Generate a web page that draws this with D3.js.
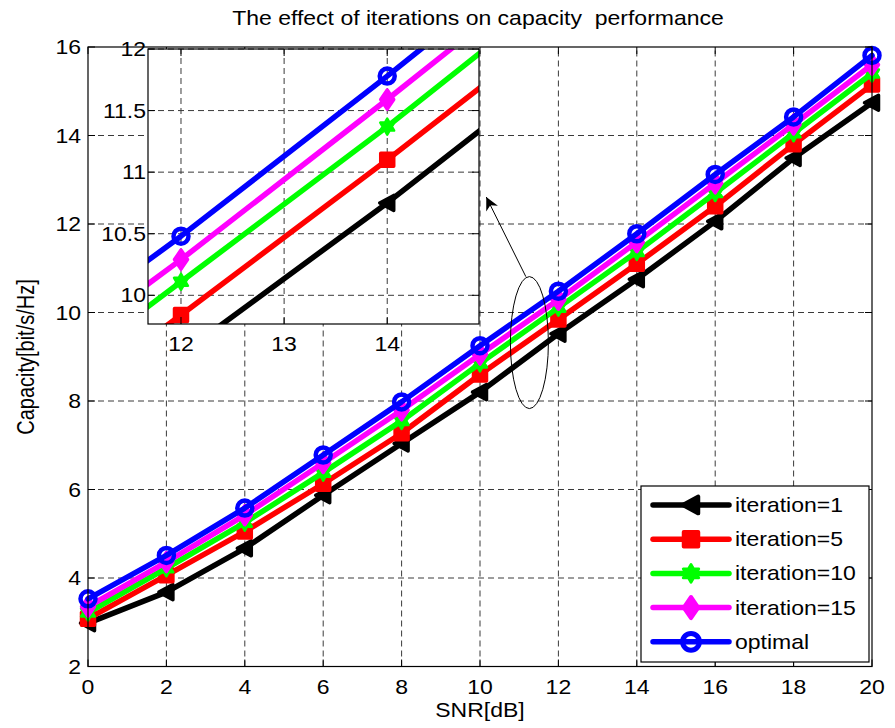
<!DOCTYPE html>
<html>
<head>
<meta charset="utf-8">
<script src="https://cdn.jsdelivr.net/npm/d3@7"></script>
<style>
body { margin: 0; background: #fff; }
text { font-family: "Liberation Sans", Arial, sans-serif; fill: #000; white-space: pre; }
</style>
</head>
<body>
<svg id="chart" width="895" height="728"></svg>
<script>
// data
var snr = [0, 2, 4, 6, 8, 10, 12, 14, 16, 18, 20];
var iter1 = [2.98, 3.68, 4.67, 5.87, 7.04, 8.20, 9.52, 10.75, 12.06, 13.49, 14.74];
var iter5 = [3.08, 4.06, 5.05, 6.13, 7.27, 8.60, 9.84, 11.10, 12.40, 13.80, 15.15];
var iter10 = [3.22, 4.22, 5.25, 6.38, 7.55, 8.85, 10.11, 11.37, 12.70, 14.05, 15.40];
var iter15 = [3.35, 4.36, 5.42, 6.60, 7.79, 9.05, 10.29, 11.59, 12.92, 14.25, 15.60];
var optimal = [3.53, 4.51, 5.58, 6.78, 7.98, 9.25, 10.48, 11.78, 13.12, 14.42, 15.81];
var seriesNames = ["iteration=1", "iteration=5", "iteration=10", "iteration=15", "optimal"];
var xTicks = [0, 2, 4, 6, 8, 10, 12, 14, 16, 18, 20];
var yTicks = [2, 4, 6, 8, 10, 12, 14, 16];
var insetXTicks = [12, 13, 14];
var insetYTicks = [10, 10.5, 11, 11.5, 12];

var allSeries = [iter1, iter5, iter10, iter15, optimal];
var colors = ["#000000", "#ff0000", "#00ff00", "#ff00ff", "#0000ff"];
var shapes = ["tri", "square", "hex", "diamond", "circle"];

var svg = d3.select("#chart");
var fs = 20, sx = 1.15;

var x = d3.scaleLinear().domain([0, 20]).range([88, 872]);
var y = d3.scaleLinear().domain([2, 16]).range([666.5, 47]);

// text stretched a little sideways like the picture
function label(g, px, py, str, anchor, rot, size) {
    return g.append("text")
        .attr("transform", "translate(" + px + "," + py + ") scale(" + sx + ",1)" + (rot ? " rotate(-90)" : ""))
        .attr("text-anchor", anchor)
        .attr("font-size", (size || fs) + "px")
        .text(str);
}

function hexPath(r) {
    var p = "";
    [[-90, 30, 150], [90, 210, 330]].forEach(function (a) {
        p += "M" + a.map(function (d) {
            var t = d * Math.PI / 180;
            return (r * Math.cos(t)).toFixed(2) + "," + (r * Math.sin(t)).toFixed(2);
        }).join("L") + "Z";
    });
    return p;
}

function drawMarker(g, shape, color, cx, cy, k) {
    k = k || 1;
    var tr = "translate(" + cx + "," + cy + ") scale(" + k + ")";
    if (shape == "circle") {
        g.append("circle").attr("r", 7.5).attr("transform", tr)
            .attr("fill", "none").attr("stroke", color).attr("stroke-width", 4.5);
        return;
    }
    var d;
    if (shape == "tri") d = "M-7.5,0L6.5,-7.5L6.5,7.5Z";
    if (shape == "square") d = "M-6.5,-6.5H6.5V6.5H-6.5Z";
    if (shape == "diamond") d = "M0,-9.5L6.5,0L0,9.5L-6.5,0Z";
    if (shape == "hex") d = hexPath(8);
    g.append("path").attr("d", d).attr("transform", tr)
        .attr("fill", color).attr("stroke", color)
        .attr("stroke-width", shape == "hex" ? 2.5 : 3.5).attr("stroke-linejoin", "round");
}

function drawSeries(g, xs, ys) {
    allSeries.forEach(function (vals, k) {
        var line = d3.line().x(function (d, i) { return xs(snr[i]); }).y(function (d) { return ys(d); });
        g.append("path").datum(vals).attr("d", line)
            .attr("fill", "none").attr("stroke", colors[k]).attr("stroke-width", 5.5)
            .attr("stroke-linejoin", "round").attr("stroke-linecap", "round");
        vals.forEach(function (v, i) {
            drawMarker(g, shapes[k], colors[k], xs(snr[i]), ys(v));
        });
    });
}

function drawGrid(g, xs, ys, xt, yt) {
    var xr = xs.range(), yr = ys.range();
    g.selectAll(null).data(xt).enter().append("line")
        .attr("x1", function (d) { return xs(d); }).attr("x2", function (d) { return xs(d); })
        .attr("y1", yr[0]).attr("y2", yr[1])
        .attr("stroke", "#3a3a3a").attr("stroke-width", 1).attr("stroke-dasharray", "6,4");
    g.selectAll(null).data(yt).enter().append("line")
        .attr("y1", function (d) { return ys(d); }).attr("y2", function (d) { return ys(d); })
        .attr("x1", xr[0]).attr("x2", xr[1])
        .attr("stroke", "#3a3a3a").attr("stroke-width", 1).attr("stroke-dasharray", "6,4");
}

function drawBox(g, xs, ys, xt, yt) {
    var xr = xs.range(), yr = ys.range(), tl = 7;
    xt.forEach(function (d) {
        g.append("line").attr("x1", xs(d)).attr("x2", xs(d)).attr("y1", yr[0]).attr("y2", yr[0] - tl).attr("stroke", "#000");
        g.append("line").attr("x1", xs(d)).attr("x2", xs(d)).attr("y1", yr[1]).attr("y2", yr[1] + tl).attr("stroke", "#000");
    });
    yt.forEach(function (d) {
        g.append("line").attr("y1", ys(d)).attr("y2", ys(d)).attr("x1", xr[0]).attr("x2", xr[0] + tl).attr("stroke", "#000");
        g.append("line").attr("y1", ys(d)).attr("y2", ys(d)).attr("x1", xr[1]).attr("x2", xr[1] - tl).attr("stroke", "#000");
    });
    g.append("rect").attr("x", xr[0]).attr("y", yr[1])
        .attr("width", xr[1] - xr[0]).attr("height", yr[0] - yr[1])
        .attr("fill", "none").attr("stroke", "#000").attr("stroke-width", 1.2);
}

// main plot
var main = svg.append("g");
drawGrid(main, x, y, xTicks.slice(1, -1), yTicks.slice(1, -1));
drawSeries(main, x, y);
drawBox(main, x, y, xTicks, yTicks);

xTicks.forEach(function (d) { label(main, x(d), y(2) + 27, d, "middle"); });
yTicks.forEach(function (d) { label(main, 81, y(d) + 7, d, "end"); });
label(main, 478, 25, "The effect of iterations on capacity  performance", "middle", false, 20);
label(main, 480, 717, "SNR[dB]", "middle");
label(main, 34, 357, "Capacity[bit/s/Hz]", "middle", true);

// ellipse and arrow pointing at the zoomed part
var defs = svg.append("defs");
defs.append("marker").attr("id", "ah").attr("viewBox", "0 0 10 10")
    .attr("refX", 10).attr("refY", 5).attr("markerWidth", 17).attr("markerHeight", 13)
    .attr("markerUnits", "userSpaceOnUse").attr("orient", "auto")
    .append("path").attr("d", "M0,0L10,5L0,10L3,5Z").attr("fill", "#000");
main.append("ellipse").attr("cx", x(11.26)).attr("cy", y(9.32)).attr("rx", 19).attr("ry", 66)
    .attr("fill", "none").attr("stroke", "#000").attr("stroke-width", 1);
main.append("line").attr("x1", x(11.17)).attr("y1", y(10.81)).attr("x2", x(10.16)).attr("y2", y(12.61))
    .attr("stroke", "#000").attr("stroke-width", 1).attr("marker-end", "url(#ah)");

// legend
var leg = svg.append("g");
leg.append("rect").attr("x", 641).attr("y", 486).attr("width", 228).attr("height", 176)
    .attr("fill", "#fff").attr("stroke", "#000").attr("stroke-width", 1.2);
seriesNames.forEach(function (name, k) {
    var cy = 505 + k * 34.2;
    leg.append("line").attr("x1", 653).attr("x2", 729).attr("y1", cy).attr("y2", cy)
        .attr("stroke", colors[k]).attr("stroke-width", 5.5).attr("stroke-linecap", "round");
    drawMarker(leg, shapes[k], colors[k], 691, cy, 1.12);
    label(leg, 735, cy + 7, name, "start");
});

// inset zoom
var xi = d3.scaleLinear().domain([11.68, 14.89]).range([148, 479]);
var yi = d3.scaleLinear().domain([9.767, 12]).range([324, 49]);
var inset = svg.append("g");
defs.append("clipPath").attr("id", "insetClip").append("rect")
    .attr("x", 148).attr("y", 49).attr("width", 331).attr("height", 275);
inset.append("rect").attr("x", 148).attr("y", 49).attr("width", 331).attr("height", 275).attr("fill", "#fff");
drawGrid(inset, xi, yi, insetXTicks, insetYTicks);
drawSeries(inset.append("g").attr("clip-path", "url(#insetClip)"), xi, yi);
drawBox(inset, xi, yi, insetXTicks, insetYTicks);
insetXTicks.forEach(function (d) { label(inset, xi(d), 351, d, "middle"); });
insetYTicks.forEach(function (d) { label(inset, 146, yi(d) + 7, d, "end"); });
</script>
</body>
</html>
